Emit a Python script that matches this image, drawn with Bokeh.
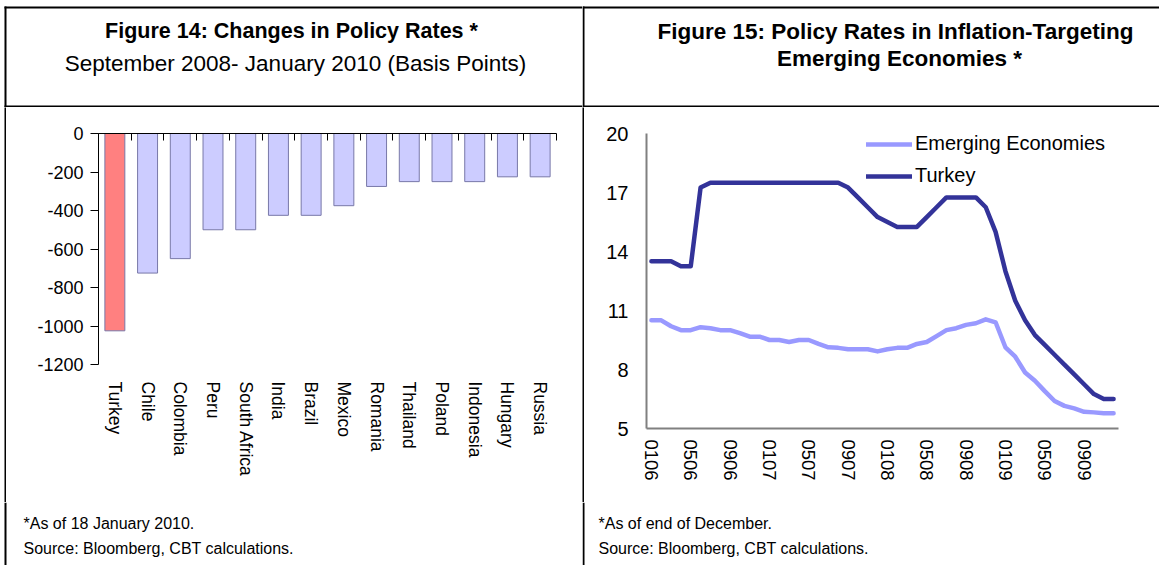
from bokeh.plotting import figure
from bokeh.layouts import column, row
from bokeh.models import (ColumnDataSource, FixedTicker, CustomJSTickFormatter,
                          LinearAxis, Range1d, Legend, LegendItem, Spacer)
from bokeh.embed import file_html
from bokeh.resources import INLINE
from bokeh.core.properties import value

FONT = "Liberation Sans"

# ---------------- data ----------------
countries = ["Turkey", "Chile", "Colombia", "Peru", "South Africa", "India", "Brazil",
             "Mexico", "Romania", "Thailand", "Poland", "Indonesia", "Hungary", "Russia"]
rate_change_bp = [-1025, -725, -650, -500, -500, -425, -425, -375, -275, -250, -250, -250, -225, -225]
highlight_country = "Turkey"
left_y_ticks = [-1200, -1000, -800, -600, -400, -200, 0]

month_labels = ["0106", "0206", "0306", "0406", "0506", "0606", "0706", "0806", "0906", "1006", "1106", "1206",
                "0107", "0207", "0307", "0407", "0507", "0607", "0707", "0807", "0907", "1007", "1107", "1207",
                "0108", "0208", "0308", "0408", "0508", "0608", "0708", "0808", "0908", "1008", "1108", "1208",
                "0109", "0209", "0309", "0409", "0509", "0609", "0709", "0809", "0909", "1009", "1109", "1209"]
emerging_rates = [10.5, 10.5, 10.2, 10.0, 10.0, 10.15, 10.1, 10.0, 10.0, 9.85, 9.67, 9.67,
                  9.5, 9.5, 9.4, 9.5, 9.5, 9.3, 9.13, 9.1, 9.03, 9.03, 9.03, 8.92,
                  9.03, 9.1, 9.1, 9.3, 9.4, 9.7, 10.0, 10.1, 10.27, 10.35, 10.55, 10.4,
                  9.13, 8.65, 7.85, 7.43, 6.9, 6.4, 6.15, 6.02, 5.85, 5.82, 5.77, 5.77]
turkey_rates = [13.5, 13.5, 13.5, 13.25, 13.25, 17.25, 17.5, 17.5, 17.5, 17.5, 17.5, 17.5,
                17.5, 17.5, 17.5, 17.5, 17.5, 17.5, 17.5, 17.5, 17.25, 16.75, 16.25, 15.75,
                15.5, 15.25, 15.25, 15.25, 15.75, 16.25, 16.75, 16.75, 16.75, 16.75, 16.25, 15.0,
                13.0, 11.5, 10.5, 9.75, 9.25, 8.75, 8.25, 7.75, 7.25, 6.75, 6.5, 6.5]
right_y_ticks = [5, 8, 11, 14, 17, 20]
label_every = 4

# ---------------- helpers ----------------
def rule(w, h):
    f = figure(width=w, height=h, output_backend="svg", toolbar_location=None,
               min_border=0, x_axis_type=None, y_axis_type=None)
    f.background_fill_color = "black"
    f.border_fill_color = "black"
    f.outline_line_color = None
    return f


def text_panel(w, h, items, hlines=(), vlines=()):
    f = figure(width=w, height=h, x_range=Range1d(0, w), y_range=Range1d(0, h),
               output_backend="svg", toolbar_location=None, min_border=0,
               x_axis_type=None, y_axis_type=None)
    f.background_fill_color = "white"
    f.border_fill_color = "white"
    f.outline_line_color = None
    for (y, x0, x1) in hlines:
        f.segment(x0=[x0], y0=[y], x1=[x1], y1=[y], line_color="black", line_width=2)
    for (x, y0, y1) in vlines:
        f.segment(x0=[x], y0=[y0], x1=[x], y1=[y1], line_color="black", line_width=2)
    for (x, y, txt, size, style, align) in items:
        f.text(x=[x], y=[y], text=[txt], text_font=value(FONT), text_font_size=size,
               text_font_style=style, text_align=align, text_baseline="middle",
               text_color="black")
    return f


W_L, W_R = 582, 577          # panel widths incl. border lines
H_HEAD, H_CHART, H_FOOT = 107, 395, 63

# ---------------- headers ----------------
head_l = text_panel(W_L, H_HEAD, [
    (291, 77, "Figure 14: Changes in Policy Rates *", "21.5px", "bold", "center"),
    (295, 44, "September 2008- January 2010 (Basis Points)", "22.5px", "normal", "center"),
], hlines=[(100, 4, W_L), (1, 4, W_L)], vlines=[(5, 0, 101)])
head_r = text_panel(W_R, H_HEAD, [
    (313, 76, "Figure 15: Policy Rates in Inflation-Targeting", "22.5px", "bold", "center"),
    (317, 49, "Emerging Economies *", "22.5px", "bold", "center"),
], hlines=[(100, 0, W_R), (1, 0, W_R)], vlines=[(1, 0, 101)])

# ---------------- left chart ----------------
n = len(countries)
src = ColumnDataSource(dict(
    x=[i + 0.5 for i in range(n)],
    top=[0] * n,
    bottom=rate_change_bp,
    fill=["#FF8080" if c == highlight_country else "#CCCCFF" for c in countries],
))
pl = figure(width=576, height=H_CHART, x_range=Range1d(0, n), y_range=Range1d(-1200, 0),
            output_backend="svg", toolbar_location=None,
            min_border_left=92, min_border_right=26, min_border_top=26, min_border_bottom=138,
            x_axis_type=None, y_axis_type=None)
pl.outline_line_color = None
pl.background_fill_color = "white"
pl.border_fill_color = "white"
pl.vbar(x="x", top="top", bottom="bottom", width=0.61, fill_color="fill",
        line_color="#7878A8", line_width=1, source=src)

yax_l = LinearAxis(ticker=FixedTicker(ticks=left_y_ticks),
                   formatter=CustomJSTickFormatter(code="return tick.toString();"))
yax_l.axis_line_color = "black"
yax_l.major_tick_line_color = "black"
yax_l.major_tick_out = 8
yax_l.major_tick_in = 0
yax_l.minor_tick_line_color = None
yax_l.major_label_standoff = 7
yax_l.major_label_text_font = FONT
yax_l.major_label_text_font_size = "18px"
yax_l.major_label_text_color = "black"
pl.add_layout(yax_l, "left")

zero_ax = LinearAxis(ticker=FixedTicker(ticks=list(range(n + 1))),
                     formatter=CustomJSTickFormatter(code="return '';"))
zero_ax.axis_line_color = "black"
zero_ax.major_tick_line_color = "black"
zero_ax.major_tick_in = 7
zero_ax.major_tick_out = 0
zero_ax.minor_tick_line_color = None
zero_ax.major_label_text_font_size = "0px"
zero_ax.major_label_standoff = 0
pl.add_layout(zero_ax, "above")

cat_ax = LinearAxis(ticker=FixedTicker(ticks=[i + 0.5 for i in range(n)]),
                    formatter=CustomJSTickFormatter(args=dict(labels=countries),
                                                    code="return labels[Math.floor(tick)];"))
cat_ax.axis_line_color = None
cat_ax.major_tick_line_color = None
cat_ax.minor_tick_line_color = None
cat_ax.major_label_orientation = "vertical"
cat_ax.major_label_standoff = 11
cat_ax.major_label_text_font = FONT
cat_ax.major_label_text_font_size = "17.5px"
cat_ax.major_label_text_color = "black"
pl.add_layout(cat_ax, "below")

# ---------------- right chart ----------------
m = len(month_labels)
xi = list(range(m))
pr = figure(width=575, height=H_CHART, x_range=Range1d(-0.5, m - 0.5), y_range=Range1d(5, 20),
            output_backend="svg", toolbar_location=None,
            min_border_left=62, min_border_right=41, min_border_top=26, min_border_bottom=74,
            x_axis_type=None, y_axis_type=None)
pr.outline_line_color = None
pr.background_fill_color = "white"
pr.border_fill_color = "white"

yax_r = LinearAxis(ticker=FixedTicker(ticks=right_y_ticks),
                   formatter=CustomJSTickFormatter(code="return tick.toString();"))
yax_r.axis_line_color = "#808080"
yax_r.axis_line_width = 2
yax_r.major_tick_line_color = None
yax_r.minor_tick_line_color = None
yax_r.major_label_standoff = 12
yax_r.major_label_text_font = FONT
yax_r.major_label_text_font_size = "20px"
yax_r.major_label_text_color = "black"
pr.add_layout(yax_r, "left")

xax_r = LinearAxis(ticker=FixedTicker(ticks=xi[::label_every]),
                   formatter=CustomJSTickFormatter(args=dict(labels=month_labels),
                                                   code="return labels[Math.round(tick)];"))
xax_r.axis_line_color = "#808080"
xax_r.axis_line_width = 2
xax_r.major_tick_line_color = None
xax_r.minor_tick_line_color = None
xax_r.major_label_orientation = "vertical"
xax_r.major_label_standoff = 5
xax_r.major_label_text_font = FONT
xax_r.major_label_text_font_size = "18.5px"
xax_r.major_label_text_color = "black"
pr.add_layout(xax_r, "below")

r_em = pr.line(xi, emerging_rates, line_color="#9999FF", line_width=4.5,
               line_join="round", line_cap="round")
r_tr = pr.line(xi, turkey_rates, line_color="#333399", line_width=4.5,
               line_join="round", line_cap="round")

legend = Legend(items=[LegendItem(label="Emerging Economies", renderers=[r_em]),
                       LegendItem(label="Turkey", renderers=[r_tr])],
                location=(220, 241))
legend.border_line_color = None
legend.background_fill_alpha = 0
legend.padding = 0
legend.margin = 0
legend.spacing = 9
legend.glyph_width = 46
legend.glyph_height = 22
legend.label_height = 22
legend.label_standoff = 3
legend.label_text_font = FONT
legend.label_text_font_size = "20px"
legend.label_text_color = "black"
legend.label_text_baseline = "middle"
pr.add_layout(legend)

# ---------------- footnotes ----------------
foot_l = text_panel(W_L, H_FOOT, [
    (23, 42, "*As of 18 January 2010.", "16px", "normal", "left"),
    (23, 17, "Source: Bloomberg, CBT calculations.", "16px", "normal", "left"),
], vlines=[(5, 0, H_FOOT)])
foot_r = text_panel(W_R, H_FOOT, [
    (16, 42, "*As of end of December.", "16px", "normal", "left"),
    (16, 17, "Source: Bloomberg, CBT calculations.", "16px", "normal", "left"),
], vlines=[(1, 0, H_FOOT)])

layout = column(
    row(head_l, head_r),
    row(Spacer(width=4, height=H_CHART), rule(2, H_CHART), column(pl),
        rule(2, H_CHART), column(pr)),
    row(foot_l, foot_r),
)

open("out.html", "w").write(file_html(layout, INLINE))
